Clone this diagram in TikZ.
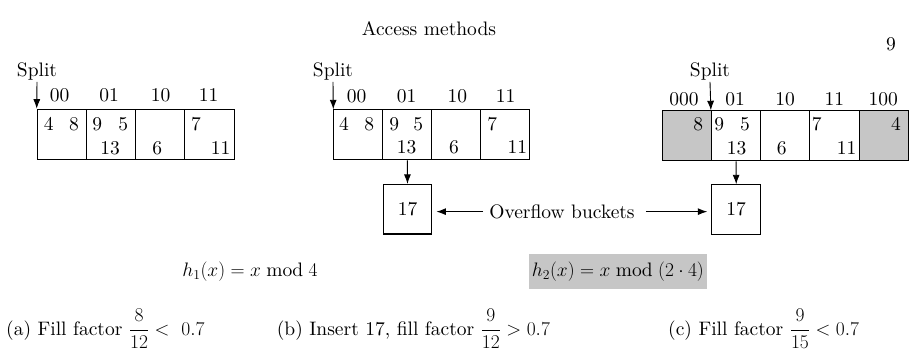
\RequirePackage{fix-cm}
\documentclass[tikz,border=0pt]{standalone}
\usepackage{amsmath}
\usepackage{fontspec}
\setmainfont{lmroman10-regular.otf}[BoldFont=lmroman10-bold.otf, ItalicFont=lmroman10-italic.otf]
\usetikzlibrary{arrows.meta}
\begin{document}
\begin{tikzpicture}[x=1pt,y=-1pt,
  font=\fontsize{19.5}{23}\selectfont,
  cell/.style={draw, line width=1.1pt, minimum width=49.2pt, minimum height=50pt, inner sep=0pt, anchor=north west},
  shaded/.style={fill=gray!45},
  obox/.style={draw, line width=1.1pt, minimum width=48.8pt, minimum height=49.5pt, inner sep=0pt},
  txt/.style={inner sep=0pt, anchor=base},
  splitlbl/.style={inner sep=2pt, anchor=base},
  arr/.style={line width=0.9pt, -{Latex[length=9.5pt,width=7pt]}}]
\useasboundingbox (0,0) rectangle (913,356);

% header
\node[txt] (title) at (429,35) {Access methods};
\node[txt] (pg) at (891,50) {9};

% ---------- panel (a)
\node[cell] (a0) at (36.7,108.7) {};
\node[cell] (a1) at (85.9,108.7) {};
\node[cell] (a2) at (135.1,108.7) {};
\node[cell] (a3) at (184.3,108.7) {};
\node[txt] (la0) at (59.7,101.7) {00};
\node[txt] (la1) at (109,101.7) {01};
\node[txt] (la2) at (160.7,101.7) {10};
\node[txt] (la3) at (208.7,101.7) {11};
\node[splitlbl] (sa) at (37,76) {Split};
\draw[arr] (sa.south) -- (a0.north west);
\node[txt] (va1) at (48.7,130) {4};
\node[txt] (va2) at (74,130) {8};
\node[txt] (va3) at (97.3,130) {9};
\node[txt] (va4) at (123.3,130) {5};
\node[txt] (va5) at (110,154) {13};
\node[txt] (va6) at (157.3,154) {6};
\node[txt] (va7) at (196,130) {7};
\node[txt] (va8) at (220.7,154) {11};

% ---------- panel (b)
\node[cell, minimum width=49pt] (b0) at (333.3,109.3) {};
\node[cell, minimum width=49pt] (b1) at (382.3,109.3) {};
\node[cell, minimum width=49pt] (b2) at (431.3,109.3) {};
\node[cell, minimum width=49pt] (b3) at (480.3,109.3) {};
\node[txt] (lb0) at (356.7,102.2) {00};
\node[txt] (lb1) at (406.7,102.2) {01};
\node[txt] (lb2) at (457.3,102.2) {10};
\node[txt] (lb3) at (505.7,102.2) {11};
\node[splitlbl] (sb) at (333,76) {Split};
\draw[arr] (sb.south) -- (b0.north west);
\node[txt] (vb1) at (344,130) {4};
\node[txt] (vb2) at (369.3,130) {8};
\node[txt] (vb3) at (394.3,130) {9};
\node[txt] (vb4) at (418.3,130) {5};
\node[txt] (vb5) at (406.7,153.5) {13};
\node[txt] (vb6) at (454,153.5) {6};
\node[txt] (vb7) at (492.3,130) {7};
\node[txt] (vb8) at (517.3,153.5) {11};
\node[obox] (ob) at (407.5,209.2) {17};
\draw[arr] (b1.south) -- (ob.north);

% ---------- panel (c)
\node[cell, shaded] (c0) at (661.7,110.3) {};
\node[cell] (c1) at (710.9,110.3) {};
\node[cell] (c2) at (760.1,110.3) {};
\node[cell] (c3) at (809.3,110.3) {};
\node[cell, shaded] (c4) at (858.5,110.3) {};
\node[txt] (lc0) at (684,105.5) {000};
\node[txt] (lc1) at (735,105.5) {01};
\node[txt] (lc2) at (785,105.5) {10};
\node[txt] (lc3) at (834.3,105.5) {11};
\node[txt] (lc4) at (883.3,105.5) {100};
\node[splitlbl] (sc) at (710,76) {Split};
\draw[arr] (sc.south) -- (c1.north west);
\node[txt] (vc1) at (698.3,130.5) {8};
\node[txt] (vc2) at (719.3,130.5) {9};
\node[txt] (vc3) at (745,130.5) {5};
\node[txt] (vc4) at (736.7,154) {13};
\node[txt] (vc5) at (781.7,154) {6};
\node[txt] (vc6) at (816.7,130.5) {7};
\node[txt] (vc7) at (846.7,154) {11};
\node[txt] (vc8) at (896,130.5) {4};
\node[obox] (oc) at (736.2,209.6) {17};
\draw[arr] (c1.south) -- (oc.north);

% overflow label
\node[txt] (ovf) at (562,218.3) {Overflow buckets};
\draw[arr, shorten <=6pt, shorten >=4pt] (ovf.west) -- (ob.east |- ovf.west);
\draw[arr, shorten <=11pt, shorten >=4pt] (ovf.east) -- (oc.west |- ovf.east);

% hash functions
\node[txt] (h1) at (250,276.7) {$h_1(x) = x \bmod 4$};
\node[shaded, minimum width=177.7pt, minimum height=35pt, inner sep=0pt] (h2) at (617.9,271.5) {$h_2(x) = x \bmod (2\cdot 4)$};

% captions
\node[txt, anchor=base west] (ca) at (6,335) {(a) Fill factor $\dfrac{8}{12}<\ 0.7$};
\node[txt, anchor=base west] (cb) at (276.7,335) {(b) Insert 17, fill factor $\dfrac{9}{12}>0.7$};
\node[txt, anchor=base west] (cc) at (668,335) {(c) Fill factor $\dfrac{9}{15}<0.7$};
\end{tikzpicture}
\end{document}
